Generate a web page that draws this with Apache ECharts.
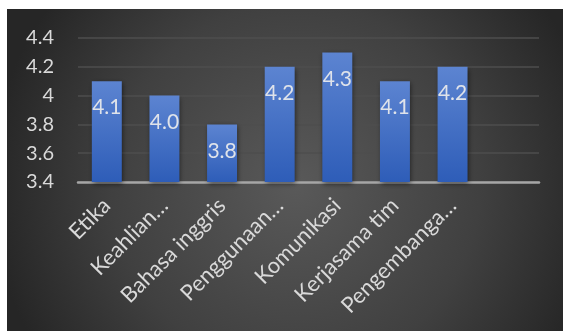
<!DOCTYPE html>
<html>
<head>
<meta charset="utf-8">
<script src="https://cdn.jsdelivr.net/npm/echarts@6/dist/echarts.min.js"></script>
<style>
html,body{margin:0;padding:0;background:#ffffff;}
#chart{width:563px;height:331px;}
</style>
</head>
<body>
<div id="chart"></div>
<script>
const categories = ['Etika', 'Keahlian…', 'Bahasa inggris', 'Penggunaan…', 'Komunikasi', 'Kerjasama tim', 'Pengembanga…', ''];
const values = [4.1, 4.0, 3.8, 4.2, 4.3, 4.1, 4.2, null];
const yMin = 3.4, yMax = 4.4, yStep = 0.2;

const chart = echarts.init(document.getElementById('chart'), null, {renderer: 'canvas'});
const FONT = 'Lato, "Open Sans", sans-serif';
chart.setOption({
  animation: false,
  backgroundColor: '#ffffff',
  graphic: [{
    type: 'rect', z: -10, silent: true,
    shape: {x: 7, y: 9, width: 556, height: 322},
    style: {
      fill: {
        type: 'radial', x: 0.52, y: 0.55, r: 0.95,
        colorStops: [
          {offset: 0, color: '#595959'},
          {offset: 0.6, color: '#404040'},
          {offset: 1, color: '#262626'}
        ]
      }
    }
  }],
  grid: {left: 78, right: 24, top: 38, bottom: 149, containLabel: false},
  xAxis: {
    type: 'category',
    data: categories,
    axisLine: {lineStyle: {color: '#a6a6a6', width: 2.5}},
    axisTick: {show: false},
    axisLabel: {interval: 0, rotate: 45, margin: 20, color: '#d9d9d9', fontSize: 22, fontFamily: FONT}
  },
  yAxis: {
    type: 'value', min: yMin, max: yMax, interval: yStep,
    axisLine: {show: false}, axisTick: {show: false},
    splitLine: {lineStyle: {color: '#4e4e4e', width: 1.5}},
    axisLabel: {color: '#d9d9d9', fontSize: 20, fontFamily: FONT, margin: 24}
  },
  series: [{
    type: 'bar',
    data: values,
    barCategoryGap: '48%',
    itemStyle: {
      color: {type: 'linear', x: 0, y: 0, x2: 0, y2: 1,
        colorStops: [{offset: 0, color: '#5c84d1'}, {offset: 1, color: '#2e5db8'}]},
      shadowColor: 'rgba(0,0,0,0.55)', shadowBlur: 5, shadowOffsetX: 1, shadowOffsetY: 2
    },
    label: {
      show: true, position: 'insideTop', distance: 16,
      color: '#dfe3ea', fontSize: 21, fontFamily: FONT,
      formatter: p => p.value == null ? '' : Number(p.value).toFixed(1)
    }
  }]
});
</script>
</body>
</html>
